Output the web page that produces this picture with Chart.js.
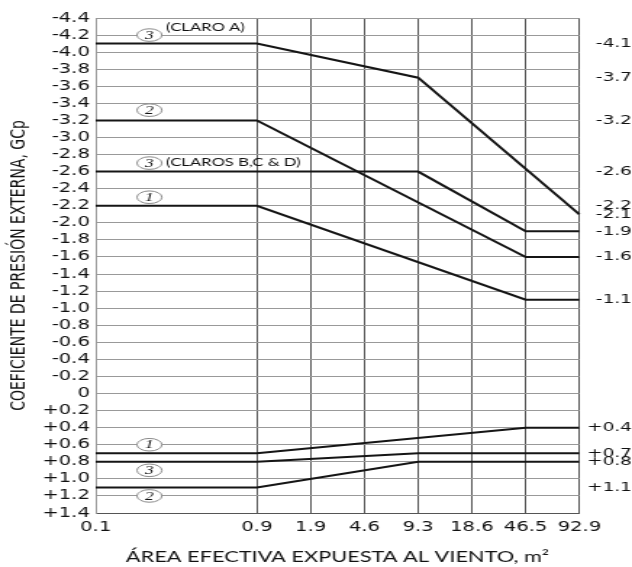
<!DOCTYPE html>
<html><head><meta charset="utf-8">
<script src="https://cdn.jsdelivr.net/npm/chart.js@4.4.1/dist/chart.umd.min.js"></script>
<style>
html,body{margin:0;padding:0;background:#fff;overflow:hidden}
#c{display:block;width:632px !important;height:567px !important}
</style></head><body>
<canvas id="c" width="436" height="567" style="width:632px;height:567px"></canvas>
<script>
// X categories (effective area, m²); blank entries are spacer slots of the axis
const areaLabels = ['0.1', '', '', '0.9', '1.9', '4.6', '9.3', '18.6', '46.5', '92.9'];
// Left Y tick labels (GCp)
const yTickLabels = ['-4.4','-4.2','-4.0','-3.8','-3.6','-3.4','-3.2','-3.0','-2.8','-2.6','-2.4','-2.2','-2.0','-1.8','-1.6','-1.4','-1.2','-1.0','-0.8','-0.6','-0.4','-0.2','0','+0.2','+0.4','+0.6','+0.8','+1.0','+1.2','+1.4'];
// Right-side value labels
const rightLabels = ['-4.1','-3.7','-3.2','-2.6','-2.2','-2.1','-1.9','-1.6','-1.1','+0.4','+0.7','+0.8','+1.1'];

// Series (x = area, y = GCp)
const zone3A_negX   = ['0.1', '0.9', '9.3', '92.9'];
const zone3A_negY   = [-4.1, -4.1, -3.7, -2.1];
const zone2_negX    = ['0.1', '0.9', '46.5', '92.9'];
const zone2_negY    = [-3.2, -3.2, -1.6, -1.6];
const zone3BCD_negX = ['0.1', '9.3', '46.5', '92.9'];
const zone3BCD_negY = [-2.6, -2.6, -1.9, -1.9];
const zone1_negX    = ['0.1', '0.9', '46.5', '92.9'];
const zone1_negY    = [-2.2, -2.2, -1.1, -1.1];
const zone1_posX    = ['0.1', '0.9', '46.5', '92.9'];
const zone1_posY    = [0.7, 0.7, 0.4, 0.4];
const zone3_posX    = ['0.1', '0.9', '9.3', '92.9'];
const zone3_posY    = [0.8, 0.8, 0.7, 0.7];
const zone2_posX    = ['0.1', '0.9', '9.3', '92.9'];
const zone2_posY    = [1.1, 1.1, 0.8, 0.8];

// Zone badges (circled numbers) and notes
const badgeText  = ['3', '2', '3', '1', '1', '3', '2'];
const badgeValue = [-4.2, -3.32, -2.7, -2.3, 0.6, 0.9, 1.2];
const noteText   = ['(CLARO A)', '(CLAROS B,C & D)'];
const noteValue  = [-4.29, -2.71];

const toPts = (xs, ys) => xs.map((x, i) => ({x: x, y: ys[i]}));
const series = [
  [zone3A_negX, zone3A_negY], [zone2_negX, zone2_negY], [zone3BCD_negX, zone3BCD_negY],
  [zone1_negX, zone1_negY], [zone1_posX, zone1_posY], [zone3_posX, zone3_posY], [zone2_posX, zone2_posY]
];

const badgePlugin = {
  id: 'badges',
  afterDatasetsDraw(chart) {
    const ctx = chart.ctx, xs = chart.scales.x, ys = chart.scales.y;
    const bx = xs.getPixelForValue(1);
    ctx.save();
    badgeText.forEach((t, i) => {
      const by = ys.getPixelForValue(badgeValue[i]);
      ctx.beginPath();
      ctx.ellipse(bx, by, 8.6, 6.3, 0, 0, Math.PI * 2);
      ctx.fillStyle = '#fff';
      ctx.fill();
      ctx.lineWidth = 1;
      ctx.strokeStyle = '#8a8a8a';
      ctx.stroke();
      ctx.fillStyle = '#111';
      ctx.font = 'italic 12px "Liberation Serif"';
      ctx.textAlign = 'center';
      ctx.textBaseline = 'middle';
      ctx.fillText(t, bx, by + 0.5);
    });
    ctx.font = '11.5px Lato';
    ctx.textAlign = 'left';
    ctx.textBaseline = 'middle';
    ctx.fillStyle = '#111';
    noteText.forEach((t, i) => {
      ctx.fillText(t, bx + 11.5, ys.getPixelForValue(noteValue[i]));
    });
    ctx.restore();
  }
};

new Chart(document.getElementById('c'), {
  type: 'line',
  data: {
    labels: areaLabels,
    datasets: series.map(s => ({
      data: toPts(s[0], s[1]),
      borderColor: '#151515',
      borderWidth: 2,
      pointRadius: 0,
      tension: 0,
      fill: false,
      yAxisID: 'y'
    }))
  },
  options: {
    responsive: false,
    animation: false,
    devicePixelRatio: 1,
    layout: {padding: {top: 18, left: 0, right: 0, bottom: 0}},
    plugins: {legend: {display: false}, tooltip: {enabled: false}},
    scales: {
      x: {
        type: 'category',
        offset: false,
        afterBuildTicks: s => { s.ticks = s.ticks.filter(t => areaLabels[t.value] !== ''); },
        afterFit: s => { s.height = 54; },
        grid: {color: '#555', drawTicks: false},
        border: {color: '#555'},
        ticks: {autoSkip: false, maxRotation: 0, padding: 6, color: '#111', font: {family: 'DejaVu Sans', size: 13.5}},
        title: {display: true, text: 'ÁREA EFECTIVA EXPUESTA AL VIENTO, m²', color: '#111',
                font: {family: 'Lato', size: 15}, padding: {top: 0, bottom: 0.5}}
      },
      y: {
        type: 'linear',
        min: -4.4, max: 1.4, reverse: true,
        afterBuildTicks: s => { s.ticks = yTickLabels.map(l => ({value: parseFloat(l)})); },
        afterFit: s => { s.width = 66; },
        grid: {color: '#999', drawTicks: false},
        border: {color: '#999'},
        ticks: {autoSkip: false, padding: 4, color: '#111', font: {family: 'DejaVu Sans', size: 13.5},
                callback: (v, i) => yTickLabels[i]},
        title: {display: true, text: 'COEFICIENTE DE PRESIÓN EXTERNA, GCp', color: '#111',
                font: {family: 'DejaVu Sans', size: 14}, padding: {top: 4.5, bottom: 0}}
      },
      y2: {
        type: 'linear', position: 'right',
        min: -4.4, max: 1.4, reverse: true,
        afterBuildTicks: s => { s.ticks = rightLabels.map(l => ({value: parseFloat(l)})); },
        afterFit: s => { s.width = 36.3; },
        grid: {display: false, drawTicks: false},
        border: {display: false},
        ticks: {autoSkip: false, padding: 2, crossAlign: 'far', color: '#111', font: {family: 'DejaVu Sans', size: 12.8},
                callback: (v, i) => rightLabels[i]}
      }
    }
  },
  plugins: [badgePlugin]
});
</script>
</body></html>
